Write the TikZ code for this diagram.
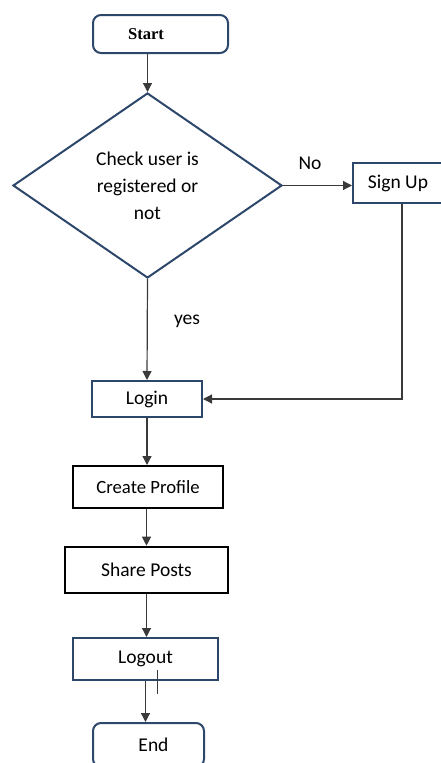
\documentclass[tikz,border=0pt]{standalone}
\usepackage{fontspec}
\setmainfont{Carlito}
\newfontfamily\serifbold{Liberation Serif}
\usepackage{xcolor}
\usetikzlibrary{arrows.meta,positioning,shapes.geometric}

\definecolor{boxblue}{HTML}{2D476B}
\definecolor{linegray}{HTML}{3A3A3A}

\begin{document}
\begin{tikzpicture}[
    x=1pt, y=-1pt,
    every node/.style={font=\fontsize{19.5}{27}\selectfont},
    terminal/.style={draw=boxblue, line width=2pt, rounded corners=8pt, align=center, inner sep=0pt},
    decision/.style={draw=boxblue, line width=2pt, diamond, align=center, inner sep=0pt},
    process/.style={draw=boxblue, line width=2pt, align=center, inner sep=0pt},
    plainbox/.style={draw=black, line width=2pt, align=center, inner sep=0pt},
    arrow/.style={-{Triangle[length=9pt,width=9pt]}, line width=1.2pt, draw=linegray},
    lbl/.style={inner sep=0pt}
]
    \useasboundingbox (0,0) rectangle (440,763);

    \node[terminal, minimum width=135pt, minimum height=38pt, font=\serifbold\bfseries\fontsize{16.6}{20}\selectfont] (start) at (160.5,34) {Start\hspace*{29pt}};
    \node[decision, minimum width=269pt, minimum height=185pt] (check) at (147.5,185.5) {Check user is\\registered or\\not};
    \node[process, minimum width=96pt, minimum height=40pt] (signup) at (401,183) {Sign Up\hspace*{6pt}};
    \node[process, minimum width=110pt, minimum height=36pt] (login) at (147,399) {Login};
    \node[plainbox, minimum width=150pt, minimum height=42pt, font=\fontsize{18.7}{22}\selectfont] (profile) at (148,487) {Create Profile};
    \node[plainbox, line width=2.6pt, minimum width=163pt, minimum height=46pt] (share) at (146.5,570) {Share Posts};
    \node[process, minimum width=145pt, minimum height=42pt] (logout) at (145.5,659) {Logout};
    \node[terminal, minimum width=111pt, minimum height=44pt] (end) at (148.5,745) {\hspace*{10pt}End};

    \node[lbl] (no) at (310,163) {No};
    \node[lbl] (yes) at (187,321) {yes};

    \draw[arrow] (start.south -| check.north) -- (check.north);
    \draw[arrow] (check.east) -- (check.east -| signup.west);
    \draw[arrow] ([xshift=1pt]signup.south) |- (login.east);
    \draw[arrow] (check.south) -- (login.north);
    \draw[arrow] (login.south) -- (login.south |- profile.north);
    \draw[arrow] (profile.south -| share.north) -- (share.north);
    \draw[arrow] (share.south) -- (share.south |- logout.north);
    \draw[arrow] (logout.south) -- (logout.south |- end.north);
    \draw[line width=1pt, draw=linegray] ([xshift=11.5pt,yshift=11pt]logout.south) -- ++(0pt,-24pt);
\end{tikzpicture}
\end{document}
